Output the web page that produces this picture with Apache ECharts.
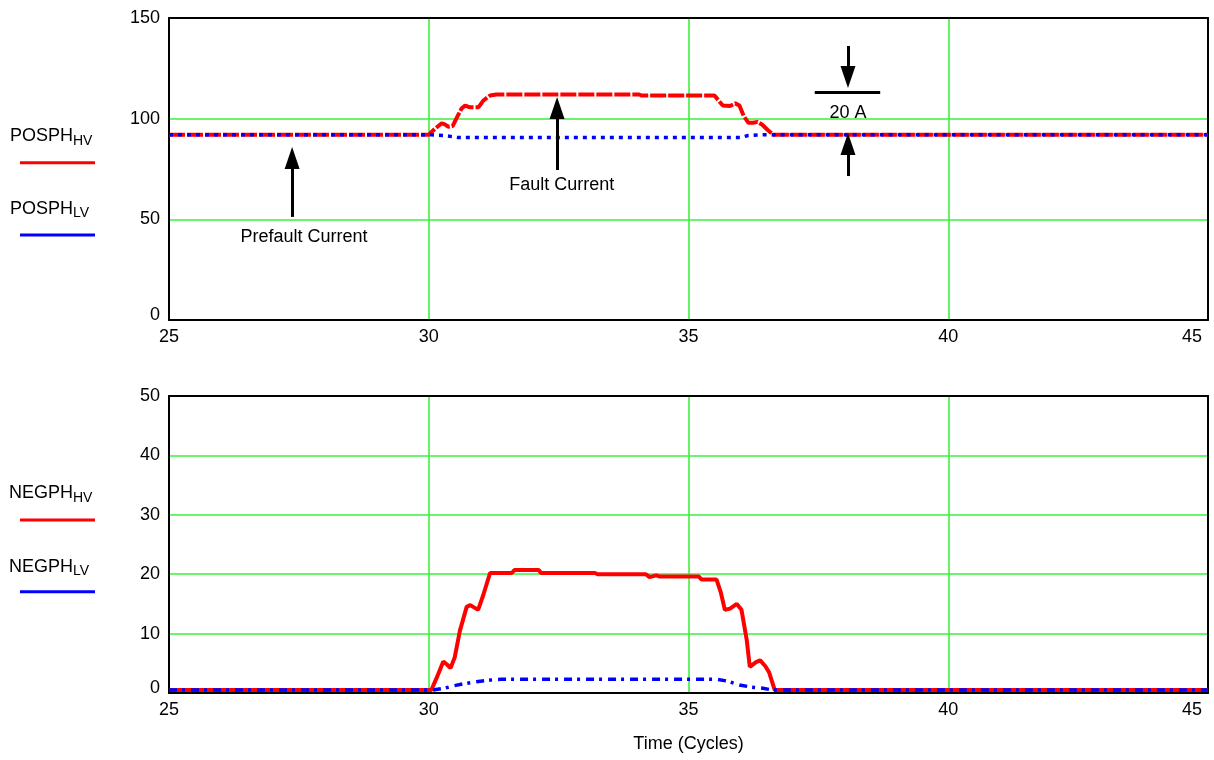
<!DOCTYPE html>
<html><head><meta charset="utf-8">
<script src="https://cdn.jsdelivr.net/npm/echarts@6/dist/echarts.min.js"></script>
<style>html,body{margin:0;padding:0;background:#fff}#c{width:1214px;height:760px}</style>
</head><body><div id="c"></div>
<script>
const FONT = '"Liberation Sans", Arial, sans-serif';
const FS = 18;

// Time axis (cycles)
const xMin = 25, xMax = 45, xStep = 5;

// POSPH (top panel)
const posHvTime  = [25, 30.0, 30.12, 30.25, 30.3, 30.38, 30.46, 30.55, 30.63, 30.7, 30.78, 30.96, 31.05, 31.18, 31.3, 34.05, 34.1, 35.5, 35.58, 35.66, 35.8, 35.9, 35.98, 36.06, 36.15, 36.24, 36.33, 36.42, 36.52, 36.63, 45];
const posHvValue = [92, 92, 95, 97.7, 97.3, 96, 96.3, 101, 105, 106.5, 105.7, 105.7, 109, 111.5, 112, 112, 111.5, 111.5, 109, 106.5, 106.3, 107.6, 106.5, 101.5, 98, 98, 98.4, 97, 94.5, 92, 92];
const posLvTime  = [25, 30.05, 30.3, 30.55, 36.0, 36.15, 36.45, 45];
const posLvValue = [92, 92, 91.6, 90.7, 90.7, 91.6, 92, 92];

// NEGPH (bottom panel)
const negHvTime  = [25, 30.05, 30.15, 30.28, 30.35, 30.42, 30.5, 30.6, 30.73, 30.8, 30.95, 31.05, 31.18, 31.6, 31.65, 32.12, 32.16, 33.2, 33.25, 34.18, 34.25, 34.38, 34.45, 35.2, 35.25, 35.54, 35.62, 35.7, 35.8, 35.93, 36.02, 36.12, 36.18, 36.3, 36.38, 36.48, 36.55, 36.66, 45];
const negHvValue = [0.5, 0.5, 2.5, 5.3, 4.8, 4.2, 6, 10.5, 14.5, 14.8, 14, 16.5, 20.2, 20.2, 20.7, 20.7, 20.2, 20.2, 20.0, 20.0, 19.5, 19.8, 19.6, 19.6, 19.1, 19.1, 17, 14, 14.2, 15, 14, 9, 4.4, 5.2, 5.5, 4.5, 3.5, 0.5, 0.5];
const negLvTime  = [25, 30.08, 30.3, 30.47, 30.7, 30.92, 31.2, 31.4, 35.55, 35.75, 35.98, 36.2, 36.43, 36.62, 45];
const negLvValue = [0.5, 0.5, 0.8, 1.2, 1.6, 1.9, 2.2, 2.3, 2.3, 2.0, 1.35, 1.0, 0.8, 0.5, 0.5];

// Annotations (data units of the top panel)
const prefaultArrow = {x: 27.37, from: 51.2, to: 80.5};
const faultArrow    = {x: 32.47, from: 74.5, to: 105.3};
const downArrow     = {x: 38.07, from: 136.1, to: 120.7};
const upArrow       = {x: 38.07, from: 71.5, to: 87.4};
const barLine       = {x1: 37.43, x2: 38.69, y: 113.3};
const annotTexts = [
  {name: 'Prefault Current', x: 27.6, y: 41.2},
  {name: 'Fault Current', x: 32.56, y: 67},
  {name: '20 A', x: 38.07, y: 102.8}
];

const zip = (t, v) => t.map((x, i) => [x, v[i]]);

const GREEN = '#3cf03c';
const labelCommon = {color: '#000', fontSize: FS, fontFamily: FONT};

function xAxisCfg(gi, extra) {
  return Object.assign({
    type: 'value', gridIndex: gi, min: xMin, max: xMax, interval: xStep, position: 'bottom',
    axisLine: {show: true, onZero: false, lineStyle: {color: '#000', width: 2}},
    axisTick: {show: false},
    axisLabel: Object.assign({}, labelCommon, {
      margin: 8,
      formatter: v => v === xMax ? '{e|' + v + '}' : '' + v,
      rich: {e: {color: '#000', fontSize: FS, fontFamily: FONT, padding: [0, 32, 0, 0]}}
    }),
    splitLine: {show: true, lineStyle: {color: GREEN, width: 1.6}}
  }, extra || {});
}
function frameX(gi) {
  return {type: 'value', gridIndex: gi, min: xMin, max: xMax, position: 'top',
    axisLine: {show: true, onZero: false, lineStyle: {color: '#000', width: 2}},
    axisTick: {show: false}, axisLabel: {show: false}, splitLine: {show: false}};
}
function frameY(gi, max) {
  return {type: 'value', gridIndex: gi, min: 0, max: max, position: 'right',
    axisLine: {show: true, onZero: false, lineStyle: {color: '#000', width: 2}},
    axisTick: {show: false}, axisLabel: {show: false}, splitLine: {show: false}};
}
function yAxisCfg(gi, max, interval) {
  return {
    type: 'value', gridIndex: gi, min: 0, max: max, interval: interval, position: 'left',
    axisLine: {show: true, onZero: false, lineStyle: {color: '#000', width: 2}},
    axisTick: {show: false},
    axisLabel: Object.assign({}, labelCommon, {
      margin: 9,
      formatter: v => v === 0 ? '{z|0}' : '' + v,
      rich: {z: {color: '#000', fontSize: FS, fontFamily: FONT, padding: [0, 0, 10, 0]}}
    }),
    splitLine: {show: true, lineStyle: {color: GREEN, width: 1.6}}
  };
}

function arrowLine(a) {
  return [
    {coord: [a.x, a.from], symbol: 'none'},
    {coord: [a.x, a.to], symbol: 'triangle', symbolSize: [15, 22]}
  ];
}

function legendItem(main, sub, textY, subY, lineY, color) {
  return [
    {type: 'text', x: 73, y: textY, silent: true,
     style: {text: main, fill: '#000', font: '18px ' + FONT, textAlign: 'right', textVerticalAlign: 'middle', align: 'right', verticalAlign: 'middle'}},
    {type: 'text', x: 73, y: subY, silent: true,
     style: {text: sub, fill: '#000', font: '14px ' + FONT, textAlign: 'left', textVerticalAlign: 'middle', align: 'left', verticalAlign: 'middle'}},
    {type: 'line', silent: true, shape: {x1: 20, y1: lineY, x2: 95, y2: lineY},
     style: {stroke: color, lineWidth: 3}}
  ];
}

const chart = echarts.init(document.getElementById('c'), null, {renderer: 'canvas'});
chart.setOption({
  animation: false,
  backgroundColor: '#fff',
  textStyle: {fontFamily: FONT},
  grid: [
    {left: 169, top: 18, right: 6, height: 302, show: false},
    {left: 169, top: 396, right: 6, height: 297, show: false}
  ],
  xAxis: [
    xAxisCfg(0),
    xAxisCfg(1, {name: 'Time (Cycles)', nameLocation: 'middle', nameGap: 42,
                 nameTextStyle: {color: '#000', fontSize: FS, fontFamily: FONT}}),
    frameX(0), frameX(1)
  ],
  yAxis: [yAxisCfg(0, 150, 50), yAxisCfg(1, 50, 10), frameY(0, 150), frameY(1, 50)],
  series: [
    {name: 'POSPH HV', type: 'line', xAxisIndex: 0, yAxisIndex: 0, data: zip(posHvTime, posHvValue),
     showSymbol: false, symbol: 'none', lineStyle: {color: '#ff0000', width: 4, type: [16, 2]}, z: 3,
     markLine: {silent: true, symbol: 'none', label: {show: false},
       lineStyle: {color: '#000', width: 3, type: 'solid'},
       emphasis: {disabled: true},
       data: [
         arrowLine(prefaultArrow), arrowLine(faultArrow), arrowLine(downArrow), arrowLine(upArrow),
         [{coord: [barLine.x1, barLine.y], symbol: 'none'}, {coord: [barLine.x2, barLine.y], symbol: 'none'}]
       ]},
     markPoint: {silent: true, symbol: 'circle', symbolSize: 0, itemStyle: {color: 'transparent'},
       label: {show: true, position: 'inside', formatter: '{b}', color: '#000', fontSize: FS, fontFamily: FONT},
       data: annotTexts.map(a => ({name: a.name, coord: [a.x, a.y]}))}
    },
    {name: 'POSPH LV', type: 'line', xAxisIndex: 0, yAxisIndex: 0, data: zip(posLvTime, posLvValue),
     showSymbol: false, symbol: 'none', lineStyle: {color: '#0000ff', width: 3.5, type: [4, 5]}, z: 4},
    {name: 'NEGPH HV', type: 'line', xAxisIndex: 1, yAxisIndex: 1, data: zip(negHvTime, negHvValue),
     showSymbol: false, symbol: 'none', lineStyle: {color: '#ff0000', width: 4, type: 'solid'}, z: 3},
    {name: 'NEGPH LV', type: 'line', xAxisIndex: 1, yAxisIndex: 1, data: zip(negLvTime, negLvValue),
     showSymbol: false, symbol: 'none', lineStyle: {color: '#0000ff', width: 3.5, type: [8, 5, 3, 6]}, z: 4}
  ],
  graphic: [].concat(
    legendItem('POSPH', 'HV', 136.3, 141.3, 162.7, '#ff0000'),
    legendItem('POSPH', 'LV', 209.5, 213, 235, '#0000ff'),
    legendItem('NEGPH', 'HV', 493.3, 498, 520, '#ff0000'),
    legendItem('NEGPH', 'LV', 566.7, 571.3, 591.7, '#0000ff')
  )
});
</script>
</body></html>
